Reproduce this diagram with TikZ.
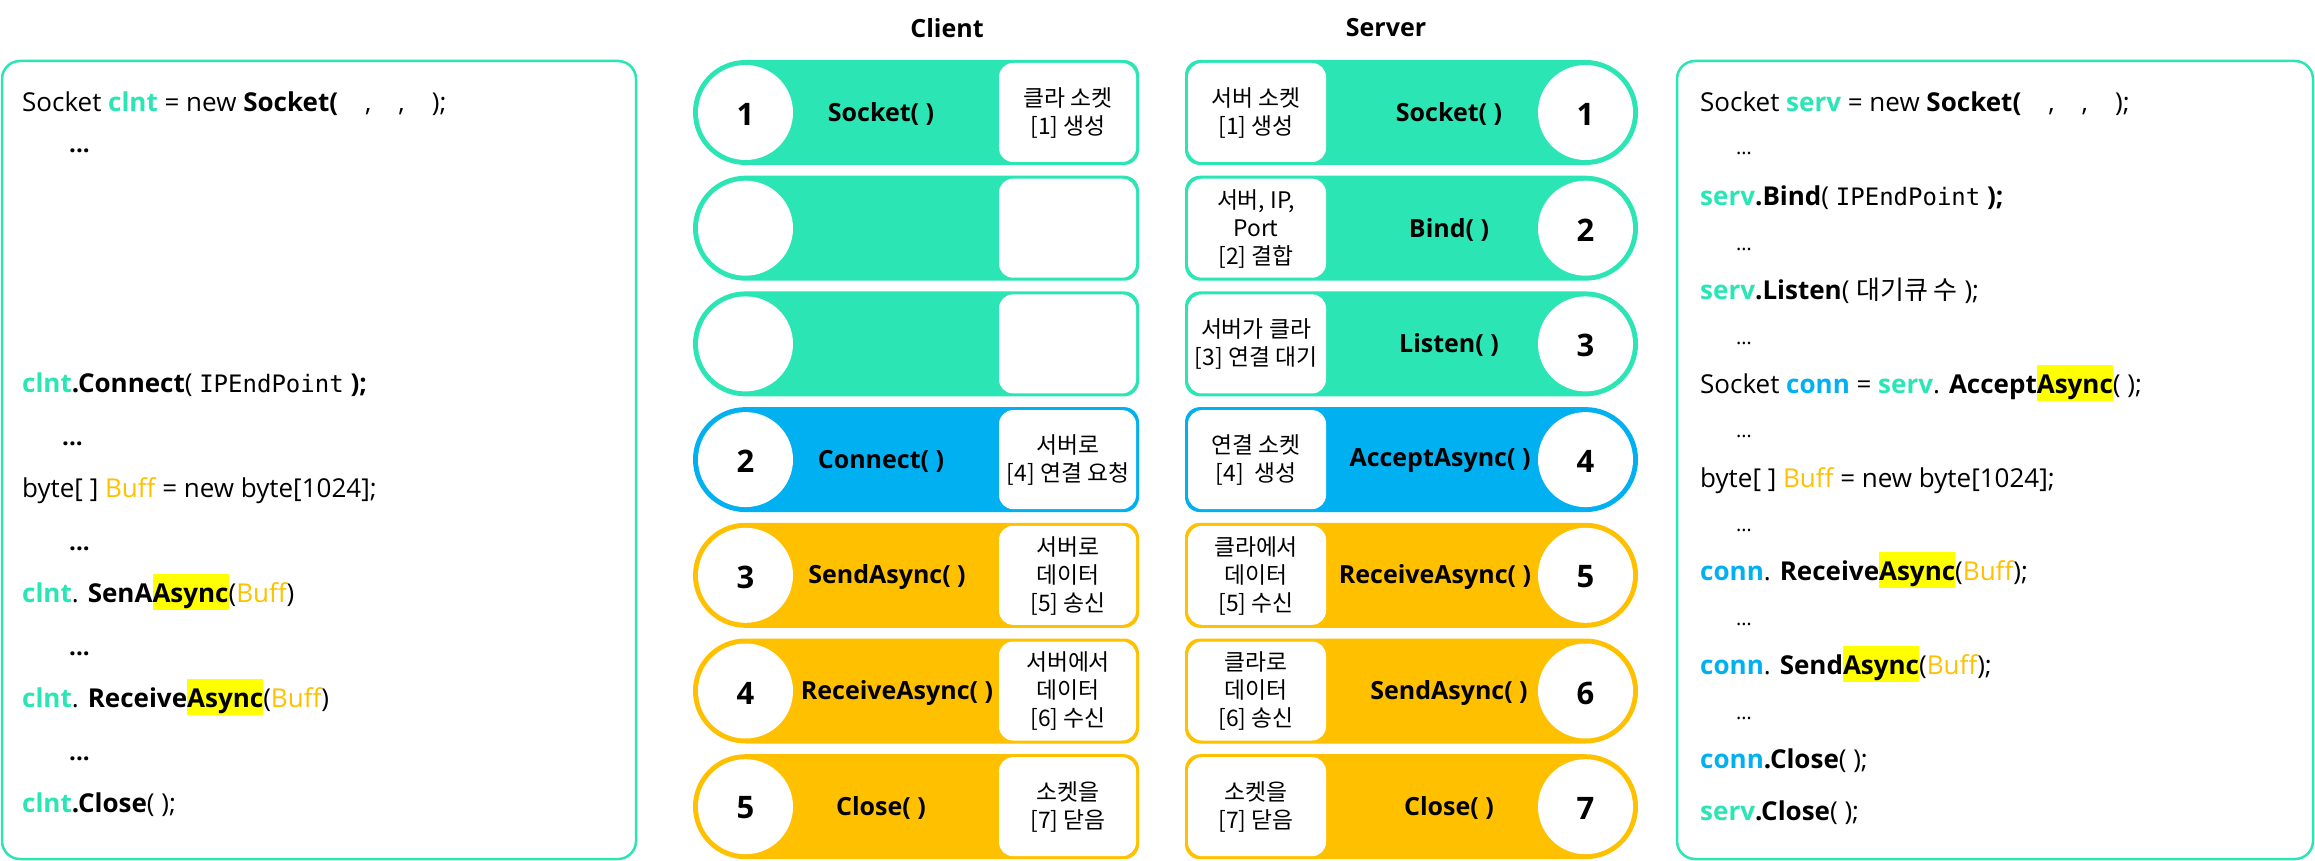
\documentclass[tikz,border=0pt]{standalone}
\usepackage{fontspec}
\setmainfont{Open Sans}
\newfontfamily\kr{Noto Sans CJK KR}
\newfontfamily\monof{DejaVu Sans Mono}
\usetikzlibrary{calc}
\definecolor{cgreen}{HTML}{2BE5B5}
\definecolor{cblue}{HTML}{00B0F0}
\definecolor{corange}{HTML}{FFC000}
\definecolor{hly}{HTML}{FFFF00}
\newcommand{\hlA}[1]{{\setlength{\fboxsep}{0pt}\colorbox{hly}{\rule[-8pt]{0pt}{36pt}#1}}}
\newcommand{\cgr}[1]{\textcolor{cgreen}{\textbf{#1}}}
\newcommand{\cbl}[1]{\textcolor{cblue}{\textbf{#1}}}
\newcommand{\cbuff}[1]{\textcolor{corange}{#1}}
\newcommand{\ipe}{{\monof\fontsize{24}{30}\selectfont IPEndPoint}}
\begin{document}
\begin{tikzpicture}[x=1pt,y=-1pt,
  code/.style={anchor=base west, inner sep=0pt, font=\fontsize{26}{30}\selectfont},
  ldots/.style={anchor=base west, inner sep=0pt, font=\bfseries\fontsize{24}{30}\selectfont},
  rdots/.style={anchor=base west, inner sep=0pt, font=\fontsize{20}{30}\selectfont},
  fn/.style={font=\bfseries\fontsize{25}{30}\selectfont, inner sep=0pt},
  num/.style={font=\bfseries\fontsize{31}{34}\selectfont, inner sep=0pt},
  kbox/.style={font=\kr\fontsize{22.8}{28}\selectfont, align=center, inner sep=0pt},
  ttl/.style={font=\bfseries\fontsize{25}{30}\selectfont, inner sep=0pt},
  codebox/.style={draw=cgreen, line width=2.5pt, rounded corners=18pt}]
\useasboundingbox (0,0) rectangle (2315,861);

% code boxes
\draw[codebox] (2,61) rectangle (636,859);
\draw[codebox] (1677,61) rectangle (2313,859);

% titles
\node[ttl] (tc) at (947,28) {Client};
\node[ttl] (ts) at (1386,28) {Server};

% client pills
\foreach \i/\col in {0/cgreen,1/cgreen,2/cgreen,3/cblue,4/corange,5/corange,6/corange} {
  \pgfmathsetmacro{\ptop}{60+115.7*\i}
  \pgfmathsetmacro{\pbot}{\ptop+105}
  \fill[\col] (745.5,\ptop) -- (1124,\ptop) arc[start angle=-90,end angle=0,radius=15]
     -- (1139,\pbot-15) arc[start angle=0,end angle=90,radius=15]
     -- (745.5,\pbot) arc[start angle=90,end angle=270,radius=52.5] -- cycle;
  \fill[white] (745.5,\ptop+52.5) circle[radius=47.5];
  \fill[white, rounded corners=14pt] (999,\ptop+3) rectangle (1136,\pbot-3);
}
% server pills
\foreach \i/\col in {0/cgreen,1/cgreen,2/cgreen,3/cblue,4/corange,5/corange,6/corange} {
  \pgfmathsetmacro{\ptop}{60+115.7*\i}
  \pgfmathsetmacro{\pbot}{\ptop+105}
  \fill[\col] (1200,\ptop) -- (1585.5,\ptop) arc[start angle=-90,end angle=90,radius=52.5]
     -- (1200,\pbot) arc[start angle=90,end angle=180,radius=15]
     -- (1185,\ptop+15) arc[start angle=180,end angle=270,radius=15] -- cycle;
  \fill[white] (1585.5,\ptop+52.5) circle[radius=47.5];
  \fill[white, rounded corners=14pt] (1188,\ptop+3) rectangle (1326,\pbot-3);
}

% client labels
\node[num] (cn1) at (745.5,114) {1};
\node[num] (cn2) at (745.5,461) {2};
\node[num] (cn3) at (745.5,577) {3};
\node[num] (cn4) at (745.5,693) {4};
\node[num] (cn5) at (745.5,808) {5};
\node[fn] (cf1) at (881,114) {Socket( )};
\node[fn] (cf2) at (881,461) {Connect( )};
\node[fn] (cf3) at (887,577) {SendAsync( )};
\node[fn] (cf4) at (897,693) {ReceiveAsync( )};
\node[fn] (cf5) at (881,808) {Close( )};
\node[kbox] (ck1) at (1068,113) {클라 소켓\\{[1]} 생성};
\node[kbox] (ck2) at (1068,460) {서버로\\{[4]} 연결 요청};
\node[kbox] (ck3) at (1068,576) {서버로\\데이터\\{[5]} 송신};
\node[kbox] (ck4) at (1068,691) {서버에서\\데이터\\{[6]} 수신};
\node[kbox] (ck5) at (1068,807) {소켓을\\{[7]} 닫음};

% server labels
\node[num] (sn1) at (1585.5,114) {1};
\node[num] (sn2) at (1585.5,230) {2};
\node[num] (sn3) at (1585.5,345) {3};
\node[num] (sn4) at (1585.5,461) {4};
\node[num] (sn5) at (1585.5,577) {5};
\node[num] (sn6) at (1585.5,693) {6};
\node[num] (sn7) at (1585.5,808) {7};
\node[fn] (sf1) at (1449,114) {Socket( )};
\node[fn] (sf2) at (1449,230) {Bind( )};
\node[fn] (sf3) at (1449,345) {Listen( )};
\node[fn] (sf4) at (1440,461) {AcceptAsync( )};
\node[fn] (sf5) at (1435,577) {ReceiveAsync( )};
\node[fn] (sf6) at (1449,693) {SendAsync( )};
\node[fn] (sf7) at (1449,808) {Close( )};
\node[kbox] (sk1) at (1256,113) {서버 소켓\\{[1]} 생성};
\node[kbox] (sk2) at (1256,229) {서버, IP,\\Port\\{[2]} 결합};
\node[kbox] (sk3) at (1256,344) {서버가 클라\\{[3]} 연결 대기};
\node[kbox] (sk4) at (1256,460) {연결 소켓\\{[4]}\ \ 생성};
\node[kbox] (sk5) at (1256,576) {클라에서\\데이터\\{[5]} 수신};
\node[kbox] (sk6) at (1256,691) {클라로\\데이터\\{[6]} 송신};
\node[kbox] (sk7) at (1256,807) {소켓을\\{[7]} 닫음};

% left code
\node[code] (l1) at (22,112) {Socket \cgr{clnt} = new \textbf{Socket(}\ \ \ \ ,\ \ \ \ ,\ \ \ \ );};
\node[ldots] (l2) at (69,153) {...};
\node[code] (l3) at (22,392) {\cgr{clnt}\textbf{.Connect}( \ipe\ \textbf{);}};
\node[ldots] (l4) at (62,445) {...};
\node[code] (l5) at (22,497) {byte[ ] \cbuff{Buff} = new byte[1024];};
\node[ldots] (l6) at (69,550) {...};
\node[code] (l7) at (22,602) {\cgr{clnt}. \textbf{SenA}\hlA{\textbf{Async}}(\cbuff{Buff})};
\node[ldots] (l8) at (69,655) {...};
\node[code] (l9) at (22,707) {\cgr{clnt}. \textbf{Receive}\hlA{\textbf{Async}}(\cbuff{Buff})};
\node[ldots] (l10) at (69,760) {...};
\node[code] (l11) at (22,812) {\cgr{clnt}\textbf{.Close}( );};

% right code
\node[code] (r1) at (1700,112) {Socket \cgr{serv} = new \textbf{Socket(}\ \ \ \ ,\ \ \ \ ,\ \ \ \ );};
\node[rdots] (r2) at (1736,155) {…};
\node[code] (r3) at (1700,206) {\cgr{serv}\textbf{.Bind}( \ipe\ \textbf{);}};
\node[rdots] (r4) at (1736,250) {…};
\node[code] (r5) at (1700,299) {\cgr{serv}\textbf{.Listen}( {\kr 대기큐 수} );};
\node[rdots] (r6) at (1736,344) {…};
\node[code] (r7) at (1700,393) {Socket \cbl{conn} = \cgr{serv}. \textbf{Accept}\hlA{\textbf{Async}}( );};
\node[rdots] (r8) at (1736,437) {…};
\node[code] (r9) at (1700,487) {byte[ ] \cbuff{Buff} = new byte[1024];};
\node[rdots] (r10) at (1736,531) {…};
\node[code] (r11) at (1700,580) {\cbl{conn}. \textbf{Receive}\hlA{\textbf{Async}}(\cbuff{Buff});};
\node[rdots] (r12) at (1736,625) {…};
\node[code] (r13) at (1700,674) {\cbl{conn}. \textbf{Send}\hlA{\textbf{Async}}(\cbuff{Buff});};
\node[rdots] (r14) at (1736,719) {…};
\node[code] (r15) at (1700,768) {\cbl{conn}\textbf{.Close}( );};
\node[code] (r16) at (1700,820) {\cgr{serv}\textbf{.Close}( );};
\end{tikzpicture}
\end{document}
